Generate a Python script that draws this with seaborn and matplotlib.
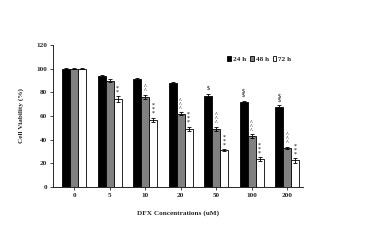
import matplotlib
matplotlib.use("Agg")
import matplotlib.pyplot as plt
import seaborn as sns
import pandas as pd
import numpy as np

concentrations = ["0", "5", "10", "20", "50", "100", "200"]
series = ["24 h", "48 h", "72 h"]
v24 = [100, 93.5, 91, 87.5, 77, 72, 68]
v48 = [100, 90, 76, 62, 49, 43, 33]
v72 = [100, 74, 56.5, 49, 31, 23.5, 22.5]
e24 = [0.5, 1.0, 1.5, 1.5, 2.0, 1.0, 1.0]
e48 = [0.5, 1.5, 2.0, 1.0, 1.5, 1.5, 1.0]
e72 = [0.5, 2.5, 2.0, 2.0, 1.0, 1.5, 2.0]
marks24 = ["", "", "", "", "$", "$$", "$$"]
marks48 = ["", "", "^^", "^^^", "^^^", "^^^", "^^^"]
marks72 = ["", "**", "***", "***", "***", "***", "***"]

sns.set_style("white")
plt.rcParams["font.family"] = ["Liberation Serif", "DejaVu Serif"]
plt.rcParams["text.parse_math"] = False

rows = []
for s, vals in zip(series, [v24, v48, v72]):
    for c, v in zip(concentrations, vals):
        rows.append({"conc": c, "series": s, "val": v})
df = pd.DataFrame(rows)

fig = plt.figure(figsize=(3.67, 2.46), dpi=100)
ax = fig.add_axes([0.144, 0.24, 0.682, 0.577])
palette = {"24 h": "#000000", "48 h": "#808080", "72 h": "#ffffff"}
sns.barplot(data=df, x="conc", y="val", hue="series", order=concentrations,
            hue_order=series, palette=palette, edgecolor="black", linewidth=0.6,
            width=0.68, errorbar=None, ax=ax, saturation=1)

errs = [e24, e48, e72]
marks = [marks24, marks48, marks72]
vals_all = [v24, v48, v72]
bars = [p for p in ax.patches if p.get_height() > 0][:21]
for i in range(3):
    for j in range(7):
        p = bars[i * 7 + j]
        xc = p.get_x() + p.get_width() / 2
        h = vals_all[i][j]
        ax.errorbar(xc, h, yerr=errs[i][j], fmt="none", ecolor="black",
                    elinewidth=0.6, capsize=1.2, capthick=0.6)
        m = marks[i][j]
        if m:
            ax.text(xc, h + errs[i][j] + 1.5, "\n".join(m), ha="center", va="bottom",
                    fontsize=4.2, linespacing=0.75, color="black", parse_math=False)

ax.set_ylim(0, 120)
ax.set_yticks(range(0, 121, 20))
ax.set_xlim(-0.6, 6.45)
ax.tick_params(axis="both", labelsize=5.2, length=2, width=0.6, pad=2,
               direction="out", bottom=True, left=True)
for lbl in ax.get_xticklabels() + ax.get_yticklabels():
    lbl.set_fontweight("bold")
sns.despine(ax=ax)
for sp in ["left", "bottom"]:
    ax.spines[sp].set_linewidth(0.7)
ax.set_xlabel("DFX Concentrations (uM)", fontsize=5.2, fontweight="bold", labelpad=9)
ax.set_ylabel("Cell Viability (%)", fontsize=5.2, fontweight="bold", labelpad=9)

leg = ax.legend(loc="center right", bbox_to_anchor=(0.965, 0.9), ncol=3, frameon=False,
                fontsize=5.2, handlelength=0.5, handleheight=0.5, handletextpad=0.3,
                columnspacing=0.5, borderaxespad=0.0)
for t in leg.get_texts():
    t.set_fontweight("bold")

fig.savefig("out.png", dpi=100)
